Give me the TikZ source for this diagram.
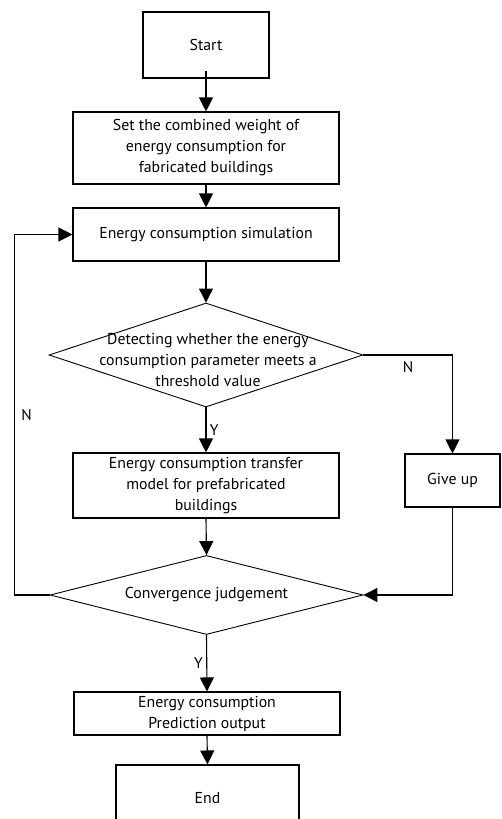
\documentclass[tikz,border=0pt]{standalone}
\usepackage{fontspec}
\setmainfont{PT Sans}
\usetikzlibrary{shapes.geometric,arrows.meta}

\tikzset{
  box/.style={draw, line width=1.1pt, align=center, inner sep=2pt},
  decision/.style={draw, diamond, line width=0.9pt, inner sep=0pt},
  flow/.style={line width=1.1pt, -{Triangle[length=14pt,width=14pt]}},
  tag/.style={font=\fontsize{15.5}{18}\selectfont}
}

\begin{document}
\begin{tikzpicture}[x=1pt, y=-1pt, font=\fontsize{15.8}{21}\selectfont]
  \clip (0,0) rectangle (501,819);

  % Boxes
  \node[box, minimum width=126pt, minimum height=66pt] (start) at (206,45) {Start};
  \node[box, minimum width=266pt, minimum height=72pt] (setw) at (206,148)
    {Set the combined weight of\\energy consumption for\\fabricated buildings};
  \node[box, minimum width=266pt, minimum height=53pt] (sim) at (206,234.5)
    {Energy consumption simulation};

  % First decision
  \node[decision, minimum width=314pt, minimum height=104pt] (detect) at (206,355) {};
  \node[align=center] (detecttext) at (208,360)
    {Detecting whether the energy\\consumption parameter meets a\\threshold value};

  \node[box, minimum width=266pt, minimum height=65pt] (transfer) at (206,485.5)
    {Energy consumption transfer\\model for prefabricated\\buildings};
  \node[box, minimum width=95pt, minimum height=53pt] (giveup) at (452.5,480.5) {Give up};

  % Second decision
  \node[decision, minimum width=313pt, minimum height=79pt] (conv) at (206.5,595) {};
  \node (convtext) at (206.5,595) {Convergence judgement};

  \node[box, minimum width=266pt, minimum height=43pt] (output) at (207,713.5)
    {Energy consumption\\Prediction output};
  \node[box, minimum width=183pt, minimum height=66pt] (finish) at (207.5,798) {End};

  % Connectors
  \draw[flow] ([yshift=8pt]start.south) -- (setw.north);
  \draw[flow] (setw.south) -- (sim.north);
  \draw[flow] (sim.south) -- (detect.north);
  \draw[flow] (detect.south) -- node[tag, right] {Y} (transfer.north);
  \draw[flow] (detect.east) -| node[tag, pos=0.25, below=3pt] {N} (giveup.north);
  \draw[flow] (giveup.south) |- (conv.east);
  \draw[flow] (transfer.south) -- (conv.north);
  \draw[flow] (conv.west) -- ++(-35,0) |- node[tag, pos=0.25, right=3pt] {N} (sim.west);
  \draw[flow] (conv.south) -- node[tag, left] {Y} (output.north);
  \draw[flow] (output.south) -- (finish.north);
\end{tikzpicture}
\end{document}
